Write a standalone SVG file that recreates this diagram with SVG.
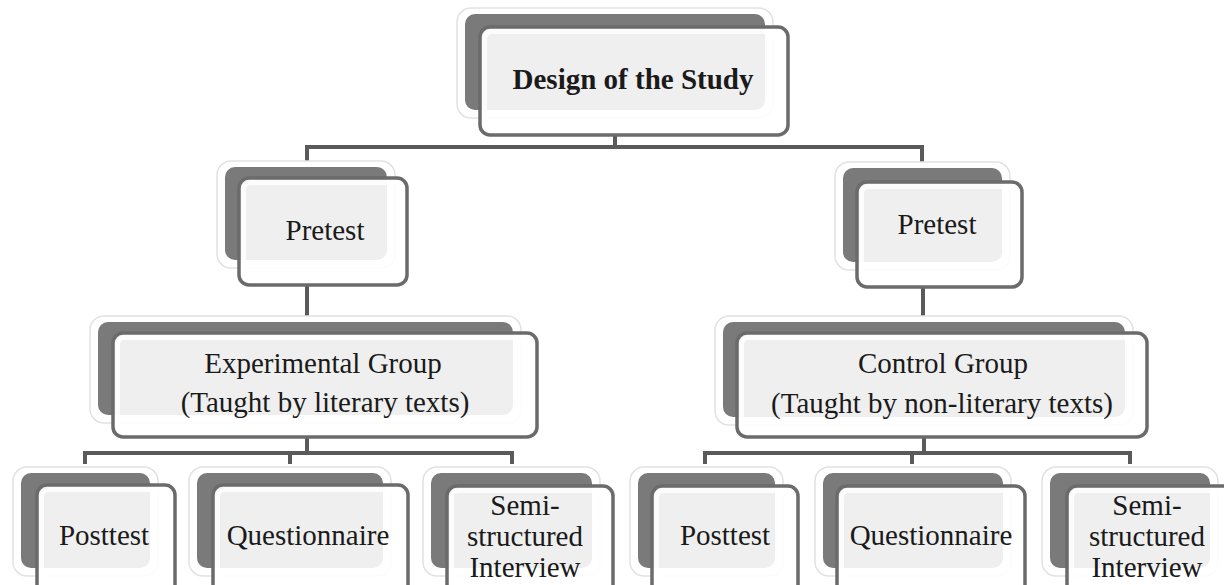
<svg xmlns="http://www.w3.org/2000/svg" width="1224" height="585" viewBox="0 0 1224 585">
<defs>
<style>
.halo{fill:#ffffff;stroke:#e2e2e2;stroke-width:1.5}
.back{fill:#7a7a7a;stroke:none}
.front{fill:#ffffff;fill-opacity:0.88;stroke:#6b6b6b;stroke-width:3.5}
.inner{fill:none;stroke:#ffffff;stroke-opacity:0.8;stroke-width:5}
text{font-family:'Liberation Serif','Times New Roman',serif;font-size:29px;fill:#1a1a1a;text-anchor:middle}
.b{font-weight:bold}
.c{fill:none;stroke:#5a5a5a;stroke-width:4;stroke-linejoin:miter}
</style>
</defs>
<rect width="1224" height="585" fill="#ffffff"/>
<g id="connectors">
<path class="c" d="M615,135 V147"/>
<path class="c" d="M307,168 V147 H922 V168"/>
<path class="c" d="M307,285 V322"/>
<path class="c" d="M923,287 V322"/>
<path class="c" d="M307,437 V453"/>
<path class="c" d="M85,464 V453 H512 V464"/>
<path class="c" d="M290,453 V464"/>
<path class="c" d="M924,437 V453"/>
<path class="c" d="M705,464 V453 H1130 V464"/>
<path class="c" d="M912,453 V464"/>
</g>
<g id="design">
<rect class="halo" x="457" y="8" width="316" height="110" rx="14"/>
<rect class="back" x="465" y="14" width="300" height="96" rx="10"/>
<rect class="front" x="480" y="27" width="308" height="108" rx="10"/>
<rect class="inner" x="484.5" y="31.5" width="299" height="99" rx="7"/>
<text class="b" x="633" y="89" font-family="Liberation Serif, serif">Design of the Study</text>
</g>
<g id="pretest-left">
<rect class="halo" x="217" y="161" width="178" height="107" rx="14"/>
<rect class="back" x="225" y="167" width="162" height="93" rx="10"/>
<rect class="front" x="239" y="178" width="168" height="107" rx="10"/>
<rect class="inner" x="243.5" y="182.5" width="159" height="98" rx="7"/>
<text x="325" y="240" font-family="Liberation Serif, serif">Pretest</text>
</g>
<g id="pretest-right">
<rect class="halo" x="835" y="162" width="175" height="108" rx="14"/>
<rect class="back" x="843" y="168" width="159" height="94" rx="10"/>
<rect class="front" x="857" y="182" width="165" height="105" rx="10"/>
<rect class="inner" x="861.5" y="186.5" width="156" height="96" rx="7"/>
<text x="937" y="234" font-family="Liberation Serif, serif">Pretest</text>
</g>
<g id="experimental">
<rect class="halo" x="90" y="316" width="431" height="107" rx="14"/>
<rect class="back" x="98" y="322" width="415" height="93" rx="10"/>
<rect class="front" x="113" y="333" width="424" height="104" rx="10"/>
<rect class="inner" x="117.5" y="337.5" width="415" height="95" rx="7"/>
<text x="323" y="373" font-family="Liberation Serif, serif">Experimental Group</text>
<text x="325" y="412" font-family="Liberation Serif, serif">(Taught by literary texts)</text>
</g>
<g id="control">
<rect class="halo" x="715" y="316" width="418" height="109" rx="14"/>
<rect class="back" x="723" y="322" width="402" height="95" rx="10"/>
<rect class="front" x="737" y="333" width="410" height="104" rx="10"/>
<rect class="inner" x="741.5" y="337.5" width="401" height="95" rx="7"/>
<text x="943" y="373" font-family="Liberation Serif, serif">Control Group</text>
<text x="942" y="413" font-family="Liberation Serif, serif">(Taught by non-literary texts)</text>
</g>
<g id="posttest-left">
<rect class="halo" x="13" y="467" width="145" height="109" rx="14"/>
<rect class="back" x="21" y="473" width="129" height="95" rx="10"/>
<rect class="front" x="37" y="485" width="138" height="115" rx="10"/>
<rect class="inner" x="41.5" y="489.5" width="129" height="106" rx="7"/>
<text x="104" y="545" font-family="Liberation Serif, serif">Posttest</text>
</g>
<g id="questionnaire-left">
<rect class="halo" x="189" y="467" width="202" height="109" rx="14"/>
<rect class="back" x="197" y="473" width="186" height="95" rx="10"/>
<rect class="front" x="213" y="485" width="195" height="115" rx="10"/>
<rect class="inner" x="217.5" y="489.5" width="186" height="106" rx="7"/>
<text x="308" y="545" font-family="Liberation Serif, serif">Questionnaire</text>
</g>
<g id="interview-left">
<rect class="halo" x="423" y="467" width="177" height="109" rx="14"/>
<rect class="back" x="431" y="473" width="161" height="95" rx="10"/>
<rect class="front" x="447" y="486" width="166" height="114" rx="10"/>
<rect class="inner" x="451.5" y="490.5" width="157" height="105" rx="7"/>
<text x="525" y="515" font-family="Liberation Serif, serif">Semi-</text>
<text x="525" y="546" font-family="Liberation Serif, serif">structured</text>
<text x="525" y="577" font-family="Liberation Serif, serif">Interview</text>
</g>
<g id="posttest-right">
<rect class="halo" x="630" y="467" width="153" height="109" rx="14"/>
<rect class="back" x="638" y="473" width="137" height="95" rx="10"/>
<rect class="front" x="652" y="486" width="146" height="114" rx="10"/>
<rect class="inner" x="656.5" y="490.5" width="137" height="105" rx="7"/>
<text x="725" y="545" font-family="Liberation Serif, serif">Posttest</text>
</g>
<g id="questionnaire-right">
<rect class="halo" x="815" y="467" width="196" height="109" rx="14"/>
<rect class="back" x="823" y="473" width="180" height="95" rx="10"/>
<rect class="front" x="837" y="486" width="188" height="114" rx="10"/>
<rect class="inner" x="841.5" y="490.5" width="179" height="105" rx="7"/>
<text x="931" y="545" font-family="Liberation Serif, serif">Questionnaire</text>
</g>
<g id="interview-right">
<rect class="halo" x="1042" y="467" width="176" height="109" rx="14"/>
<rect class="back" x="1050" y="473" width="160" height="95" rx="10"/>
<rect class="front" x="1067" y="486" width="173" height="114" rx="10"/>
<rect class="inner" x="1071.5" y="490.5" width="164" height="105" rx="7"/>
<text x="1147" y="515" font-family="Liberation Serif, serif">Semi-</text>
<text x="1147" y="546" font-family="Liberation Serif, serif">structured</text>
<text x="1147" y="577" font-family="Liberation Serif, serif">Interview</text>
</g>
</svg>
